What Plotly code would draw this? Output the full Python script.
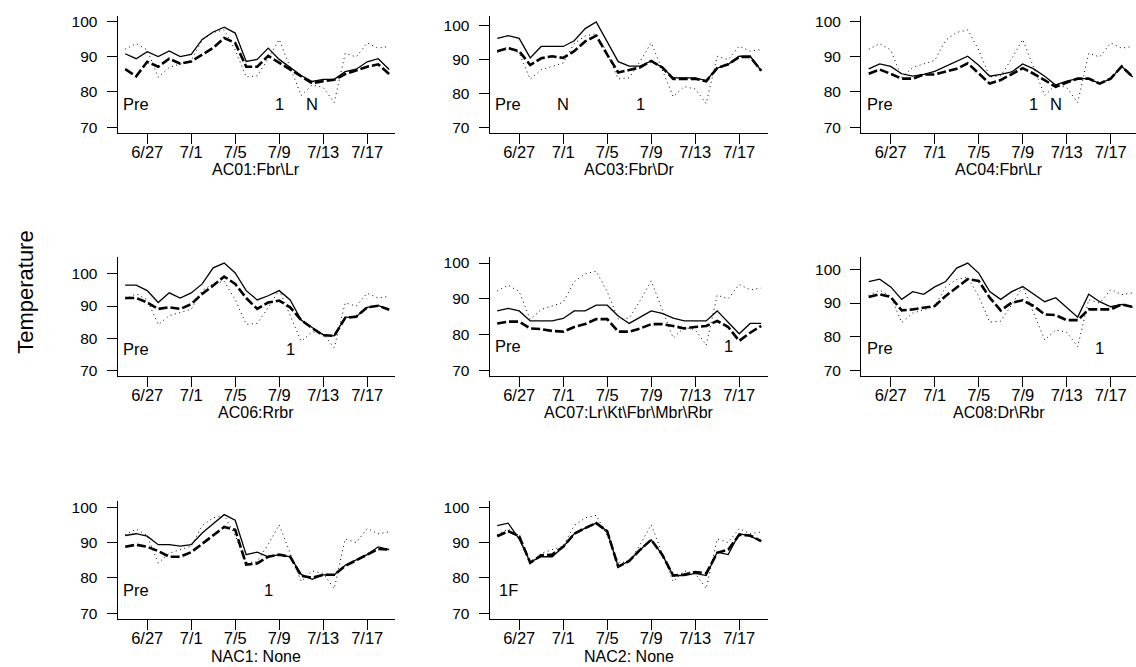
import plotly.graph_objects as go

W, H = 1136, 667

dates = ["6/25", "6/26", "6/27", "6/28", "6/29", "6/30", "7/1", "7/2", "7/3",
         "7/4", "7/5", "7/6", "7/7", "7/8", "7/9", "7/10", "7/11", "7/12",
         "7/13", "7/14", "7/15", "7/16", "7/17", "7/18", "7/19"]
tick_labels = ["6/27", "7/1", "7/5", "7/9", "7/13", "7/17"]
y_ticks = [70, 80, 90, 100]

# outdoor temperature, shared by every panel (dotted)
outdoor = [92.2, 93.8, 92.0, 84.2, 87.0, 88.0, 89.0, 94.8, 97.0, 97.7, 92.0, 84.3, 84.6,
           89.5, 95.0, 87.0, 79.0, 82.0, 81.3, 77.0, 91.0, 90.0, 94.0, 92.5, 93.0]

# per-site peak (solid) and mean (dashed) indoor temperatures
ac01_peak = [90.9, 89.5, 91.5, 90.1, 91.7, 90.1, 90.7, 95.0, 97.1, 98.5, 96.8, 88.7, 89.3,
             92.5, 89.3, 87.0, 84.7, 83.0, 83.6, 83.6, 85.8, 86.5, 88.6, 89.5, 86.4]
ac01_mean = [86.5, 84.5, 88.6, 87.2, 89.5, 88.1, 88.7, 90.7, 92.6, 95.4, 94.0, 87.2, 87.2,
             90.3, 88.4, 86.5, 84.4, 82.5, 83.1, 83.5, 85.1, 86.1, 87.2, 87.9, 85.1]

ac03_peak = [96.3, 97.1, 96.3, 90.5, 93.9, 93.9, 93.9, 95.6, 99.2, 101.2, 95.4, 89.4, 88.1,
             88.1, 89.6, 87.7, 84.6, 84.6, 84.6, 83.8, 87.5, 88.6, 91.0, 91.0, 86.7]
ac03_mean = [92.5, 93.4, 92.5, 88.4, 90.4, 91.0, 90.5, 92.5, 95.4, 97.1, 91.5, 86.2, 86.9,
             87.7, 89.6, 87.7, 84.3, 84.3, 84.3, 83.6, 87.5, 88.6, 90.8, 90.8, 86.7]

ac04_peak = [86.6, 88.0, 87.3, 85.2, 84.5, 85.0, 85.9, 87.3, 88.8, 90.2, 87.6, 84.5, 85.0,
             85.7, 88.0, 86.6, 84.5, 82.0, 83.1, 83.8, 83.8, 82.4, 83.8, 87.3, 84.3]
ac04_mean = [85.2, 86.4, 85.2, 83.8, 83.8, 85.0, 85.0, 85.7, 86.6, 88.2, 85.2, 82.4, 83.4,
             85.0, 86.8, 85.2, 83.4, 81.5, 82.7, 83.8, 83.8, 82.4, 83.8, 87.3, 84.3]

ac06_peak = [96.5, 96.5, 94.8, 91.1, 94.1, 92.5, 94.1, 96.9, 101.9, 103.4, 100.3, 94.8, 91.9,
             93.2, 94.8, 91.9, 85.6, 83.3, 81.0, 80.7, 86.5, 86.7, 89.6, 90.1, 89.1]
ac06_mean = [92.5, 92.5, 91.1, 89.1, 89.6, 89.1, 90.6, 93.8, 96.4, 99.2, 96.9, 92.5, 89.1,
             91.1, 91.7, 89.6, 85.6, 83.1, 80.9, 80.7, 86.3, 86.7, 89.6, 90.1, 88.8]

ac07_peak = [86.6, 87.3, 86.6, 83.8, 83.8, 83.8, 84.5, 86.6, 86.6, 88.2, 88.2, 85.2, 83.1,
             84.8, 86.6, 85.9, 84.6, 83.8, 83.8, 83.8, 86.6, 83.3, 80.2, 83.1, 83.1]
ac07_mean = [83.1, 83.6, 83.6, 81.7, 81.5, 81.0, 80.8, 82.1, 82.9, 84.3, 84.3, 80.8, 80.8,
             81.7, 82.9, 82.9, 82.4, 81.7, 82.1, 82.4, 83.8, 82.1, 78.2, 80.5, 82.4]

ac08_peak = [96.4, 97.1, 94.8, 91.1, 93.4, 92.6, 94.8, 96.4, 100.4, 101.9, 98.9, 93.4, 91.1,
             93.4, 94.9, 92.6, 90.4, 91.6, 88.6, 85.8, 92.6, 90.4, 88.9, 89.6, 88.8]
ac08_mean = [91.8, 92.6, 91.8, 87.8, 88.1, 88.6, 89.1, 92.1, 94.6, 97.1, 96.6, 91.6, 87.8,
             90.1, 90.8, 89.1, 86.6, 86.4, 84.9, 84.9, 88.1, 88.1, 88.1, 89.6, 88.8]

nac1_peak = [92.0, 92.5, 91.8, 89.4, 89.4, 89.0, 89.4, 92.7, 95.3, 97.9, 96.3, 86.6, 87.3,
             86.0, 86.6, 86.0, 81.0, 79.6, 80.9, 80.9, 83.6, 85.0, 86.6, 88.8, 88.0]
nac1_mean = [88.8, 89.4, 88.8, 87.6, 86.0, 86.0, 87.3, 89.7, 92.2, 94.4, 93.6, 83.8, 84.1,
             86.0, 86.6, 86.0, 80.6, 80.1, 80.9, 80.9, 83.4, 85.0, 86.4, 88.2, 88.0]

nac2_peak = [94.8, 95.5, 91.0, 84.5, 86.0, 86.0, 88.8, 92.5, 94.1, 95.5, 93.2, 83.2, 84.8,
             88.0, 90.8, 86.6, 80.7, 80.7, 81.3, 80.7, 87.3, 86.6, 92.5, 91.8, 90.4]
nac2_mean = [91.8, 93.2, 91.8, 84.3, 86.4, 86.6, 88.8, 92.5, 94.1, 95.5, 93.2, 83.2, 84.8,
             88.0, 90.8, 86.6, 80.7, 81.0, 81.7, 81.3, 87.1, 88.0, 92.2, 92.0, 90.4]

panel_titles = [r"AC01:Fbr\Lr", r"AC03:Fbr\Dr", r"AC04:Fbr\Lr",
                r"AC06:Rrbr", r"AC07:Lr\Kt\Fbr\Mbr\Rbr", r"AC08:Dr\Rbr",
                "NAC1: None", "NAC2: None"]
panel_peak = [ac01_peak, ac03_peak, ac04_peak, ac06_peak, ac07_peak, ac08_peak, nac1_peak, nac2_peak]
panel_mean = [ac01_mean, ac03_mean, ac04_mean, ac06_mean, ac07_mean, ac08_mean, nac1_mean, nac2_mean]

# phase markers written inside each panel: (text, day)
panel_phases = [
    [("Pre", "6/26"), ("1", "7/9"), ("N", "7/12")],
    [("Pre", "6/26"), ("N", "7/1"), ("1", "7/8")],
    [("Pre", "6/26"), ("1", "7/10"), ("N", "7/12")],
    [("Pre", "6/26"), ("1", "7/10")],
    [("Pre", "6/26"), ("1", "7/16")],
    [("Pre", "6/26"), ("1", "7/16")],
    [("Pre", "6/26"), ("1", "7/8")],
    [("1F", "6/26")],
]
phase_level = 76.7

# plot-area geometry in pixels
col_px = [(117.5, 395), (489.5, 768), (861, 1136)]
row_px = [(13, 131), (256, 376), (502, 621)]
px_per_day = 11.0
x_start = -0.7

FONT = "Liberation Sans, Arial, Helvetica, sans-serif"
x_idx = list(range(len(dates)))
tickvals = [dates.index(t) for t in tick_labels]

fig = go.Figure()
annotations = []

for i, title in enumerate(panel_titles):
    r, c = divmod(i, 3)
    n = i + 1
    xa = "x" if n == 1 else f"x{n}"
    ya = "y" if n == 1 else f"y{n}"
    x0, x1 = col_px[c]
    top, bot = row_px[r]

    series = [outdoor, panel_peak[i], panel_mean[i]]
    lo = min(min(y_ticks), min(min(s) for s in series))
    hi = max(max(y_ticks), max(max(s) for s in series))
    pad = (hi - lo) * 6.0 / ((bot - top) - 12.0)

    fig.add_trace(go.Scatter(x=x_idx, y=outdoor, mode="lines", xaxis=xa, yaxis=ya,
                             line=dict(color="black", width=1.0, dash="1px,3.5px"),
                             showlegend=False, hoverinfo="skip"))
    fig.add_trace(go.Scatter(x=x_idx, y=panel_peak[i], mode="lines", xaxis=xa, yaxis=ya,
                             line=dict(color="black", width=1.3),
                             showlegend=False, hoverinfo="skip"))
    fig.add_trace(go.Scatter(x=x_idx, y=panel_mean[i], mode="lines", xaxis=xa, yaxis=ya,
                             line=dict(color="black", width=2.6, dash="9px,3px"),
                             showlegend=False, hoverinfo="skip"))

    key = "" if n == 1 else str(n)
    fig.layout[f"xaxis{key}"] = dict(
        domain=[x0 / W, x1 / W], anchor=ya,
        range=[x_start, x_start + (x1 - x0) / px_per_day],
        tickmode="array", tickvals=tickvals, ticktext=tick_labels,
        ticks="outside", ticklen=10, tickwidth=1, tickcolor="black",
        showline=True, linecolor="black", linewidth=1,
        showgrid=False, zeroline=False, ticklabelstandoff=-6,
        tickfont=dict(family=FONT, size=16.5, color="black"),
    )
    fig.layout[f"yaxis{key}"] = dict(
        domain=[1 - bot / H, 1 - top / H], anchor=xa,
        range=[lo - pad, hi + pad],
        tickmode="array", tickvals=y_ticks,
        ticks="outside", ticklen=10, tickwidth=1, tickcolor="black",
        showline=True, linecolor="black", linewidth=1,
        showgrid=False, zeroline=False, ticklabelstandoff=6,
        tickfont=dict(family=FONT, size=15.5, color="black"),
    )

    # panel caption under the axis
    annotations.append(dict(
        text=title, xref="paper", yref="paper",
        x=((x0 + x1) / 2) / W, y=1 - (bot + 37) / H,
        xanchor="center", yanchor="middle", showarrow=False,
        font=dict(family=FONT, size=16, color="black"),
    ))
    for txt, day in panel_phases[i]:
        annotations.append(dict(
            text=txt, xref=xa, yref=ya, x=dates.index(day), y=phase_level,
            xanchor="center", yanchor="middle", showarrow=False,
            font=dict(family=FONT, size=16.5, color="black"),
        ))

annotations.append(dict(
    text="Temperature", xref="paper", yref="paper",
    x=26 / W, y=1 - 291 / H, textangle=-90,
    xanchor="center", yanchor="middle", showarrow=False,
    font=dict(family=FONT, size=22, color="black"),
))

fig.update_layout(
    width=W, height=H,
    margin=dict(l=0, r=0, t=0, b=0),
    paper_bgcolor="white", plot_bgcolor="white",
    annotations=annotations,
    showlegend=False,
)

fig.write_html("out.html")
